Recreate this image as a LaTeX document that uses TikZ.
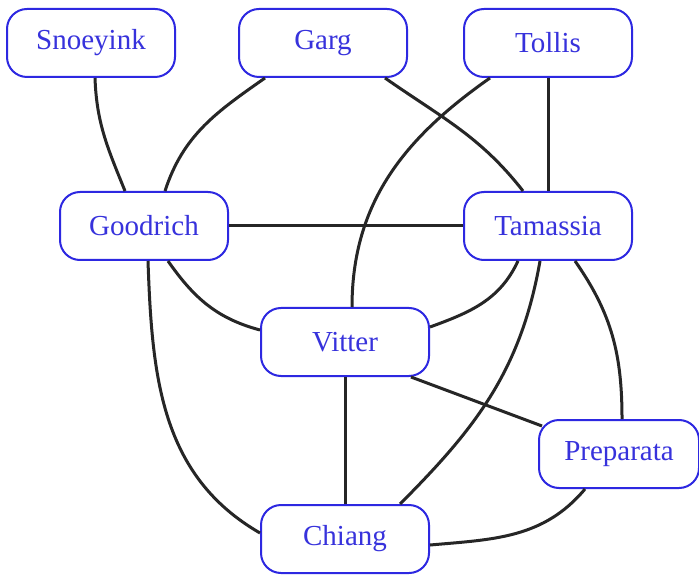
\documentclass[tikz,border=0pt]{standalone}
\usepackage{fontspec}
\setmainfont{Liberation Serif}
\usetikzlibrary{calc}
\definecolor{nodeblue}{RGB}{45,40,225}
\definecolor{textblue}{RGB}{55,50,220}
\begin{document}
\begin{tikzpicture}[x=0.5pt,y=-0.5pt,
  person/.style={draw=nodeblue, line width=1pt, rounded corners=10pt, fill=white,
    minimum width=84pt, minimum height=34pt, inner sep=0pt,
    text=textblue, font=\fontsize{14.5pt}{16pt}\selectfont},
  edge/.style={line width=1.5pt, black!85}]
\useasboundingbox (0,0) rectangle (699,576);
\fill[white] (0,0) rectangle (699,576);
% edges first (behind nodes)
\node[person] (snoeyink) at (91,43) {Snoeyink};
\node[person] (garg) at (323,43) {Garg};
\node[person] (tollis) at (548,43) {Tollis};
\node[person] (goodrich) at (144,226) {Goodrich};
\node[person] (tamassia) at (548,226) {Tamassia};
\node[person] (vitter) at (345,342) {Vitter};
\node[person, minimum width=80pt] (preparata) at (619,454) {Preparata};
\node[person] (chiang) at (345,539) {Chiang};
\begin{scope}[on background layer/.style={}]
\draw[edge] ($(snoeyink.south)+(4,0)$) to[out=-88,in=112] ($(goodrich.north)+(-19,0)$);
\draw[edge] ($(garg.south)+(-58,0)$) to[out=-145,in=72] ($(goodrich.north)+(21,0)$);
\draw[edge] ($(garg.south)+(62,0)$) to[out=-35,in=128] ($(tamassia.north)+(-25,0)$);
\draw[edge] (tollis.south) -- (tamassia.north);
\draw[edge] ($(tollis.south)+(-58,0)$) to[out=-145,in=90] ($(vitter.north)+(7,0)$);
\draw[edge] (goodrich.east) -- (tamassia.west);
\draw[edge] ($(goodrich.south)+(24,0)$) to[out=-55,in=165] ($(vitter.west)+(0,-12)$);
\draw[edge] ($(goodrich.south)+(4,0)$) to[out=-88,in=150] ($(chiang.west)+(0,-6)$);
\draw[edge] ($(tamassia.south)+(-30,0)$) to[out=-115,in=20] ($(vitter.east)+(0,-15)$);
\draw[edge] ($(tamassia.south)+(-8,0)$) to[out=-100,in=45] ($(chiang.north)+(55,0)$);
\draw[edge] ($(tamassia.south)+(27,0)$) to[out=-55,in=90] ($(preparata.north)+(3,0)$);
\draw[edge] (vitter.south) -- (chiang.north);
\draw[edge] ($(vitter.south)+(66,0)$) -- ($(preparata.west)+(4,-28)$);
\draw[edge] ($(preparata.south)+(-34,0)$) to[out=-130,in=5] ($(chiang.east)+(0,6)$);
\end{scope}
\end{tikzpicture}
\end{document}
